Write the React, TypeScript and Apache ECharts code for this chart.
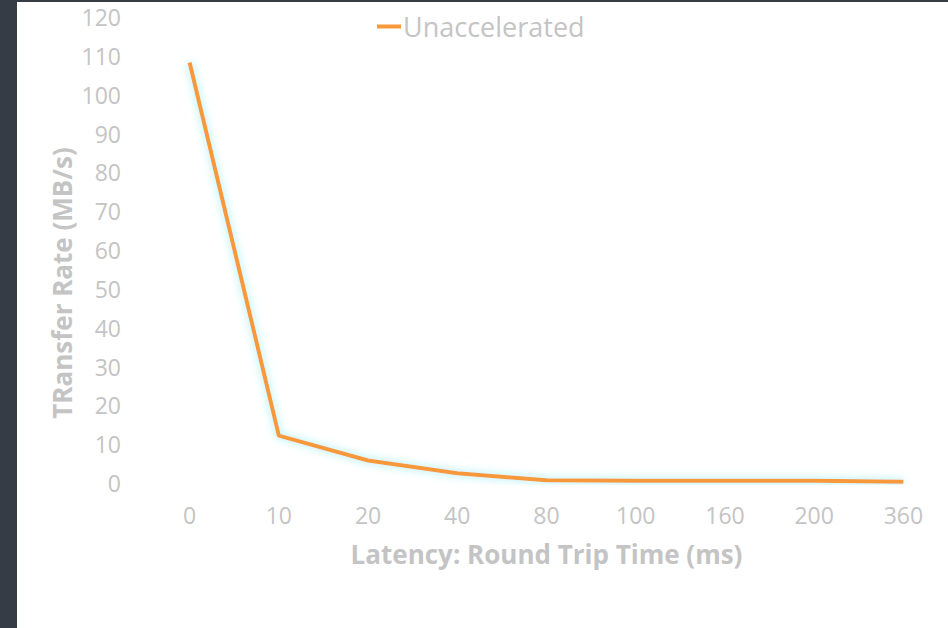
import React, { useEffect, useRef } from "react";
import * as echarts from "echarts";

const categories = ["0", "10", "20", "40", "80", "100", "160", "200", "360"];
const unaccelerated = [108.3, 12.2, 5.8, 2.5, 0.7, 0.6, 0.6, 0.6, 0.3];
const seriesName = "Unaccelerated";
const xTitle = "Latency: Round Trip Time (ms)";
const yTitle = "TRansfer Rate (MB/s)";

export default function App() {
  const ref = useRef<HTMLDivElement>(null);
  useEffect(() => {
    if (!ref.current) return;
    const chart = echarts.init(ref.current, undefined, { renderer: "svg" });
    const font = "'Open Sans', 'Noto Sans', sans-serif";
    chart.setOption({
      animation: false,
      backgroundColor: "#ffffff",
      textStyle: { fontFamily: font },
      graphic: [
        { type: "rect", shape: { x: 0, y: 0, width: 17, height: 628 }, style: { fill: "#353c45" }, z: 100 },
        { type: "rect", shape: { x: 0, y: 0, width: 948, height: 2 }, style: { fill: "#353c45" }, z: 100 },
        {
          type: "text",
          x: 62,
          y: 283,
          rotation: Math.PI / 2,
          style: {
            text: yTitle,
            fill: "#c4c4c4",
            fontSize: 26,
            fontWeight: "bold",
            fontFamily: font,
            align: "center",
            verticalAlign: "middle",
          },
        },
      ],
      legend: {
        left: 372,
        top: 8,
        itemWidth: 24,
        itemHeight: 4,
        itemGap: 4,
        icon: "rect",
        textStyle: { color: "#c4c4c4", fontSize: 27, fontFamily: font, padding: [0, 0, 0, -3] },
        data: [seriesName],
      },
      grid: { left: 145, top: 17, width: 804, height: 466, containLabel: false },
      xAxis: {
        type: "category",
        data: categories,
        boundaryGap: true,
        axisLine: { show: false },
        axisTick: { show: false },
        axisLabel: { color: "#c4c4c4", fontSize: 23, margin: 20, fontFamily: font },
        name: xTitle,
        nameLocation: "middle",
        nameGap: 58,
        nameTextStyle: { color: "#c4c4c4", fontSize: 26, fontWeight: "bold", fontFamily: font },
        splitLine: { show: false },
      },
      yAxis: {
        type: "value",
        min: 0,
        max: 120,
        interval: 10,
        axisLine: { show: false },
        axisTick: { show: false },
        splitLine: { show: false },
        axisLabel: { color: "#c4c4c4", fontSize: 23, margin: 24, fontFamily: font },
      },
      series: [
        {
          name: seriesName,
          type: "line",
          data: unaccelerated,
          showSymbol: false,
          symbol: "none",
          color: "#f7993a",
          lineStyle: {
            width: 4,
            color: "#f7993a",
            shadowColor: "rgba(140, 235, 240, 0.95)",
            shadowBlur: 8,
          },
        },
      ],
    });
    return () => chart.dispose();
  }, []);
  return (
    <div
      ref={ref}
      style={{ position: "fixed", left: 0, top: 0, width: 948, height: 628 }}
    />
  );
}
